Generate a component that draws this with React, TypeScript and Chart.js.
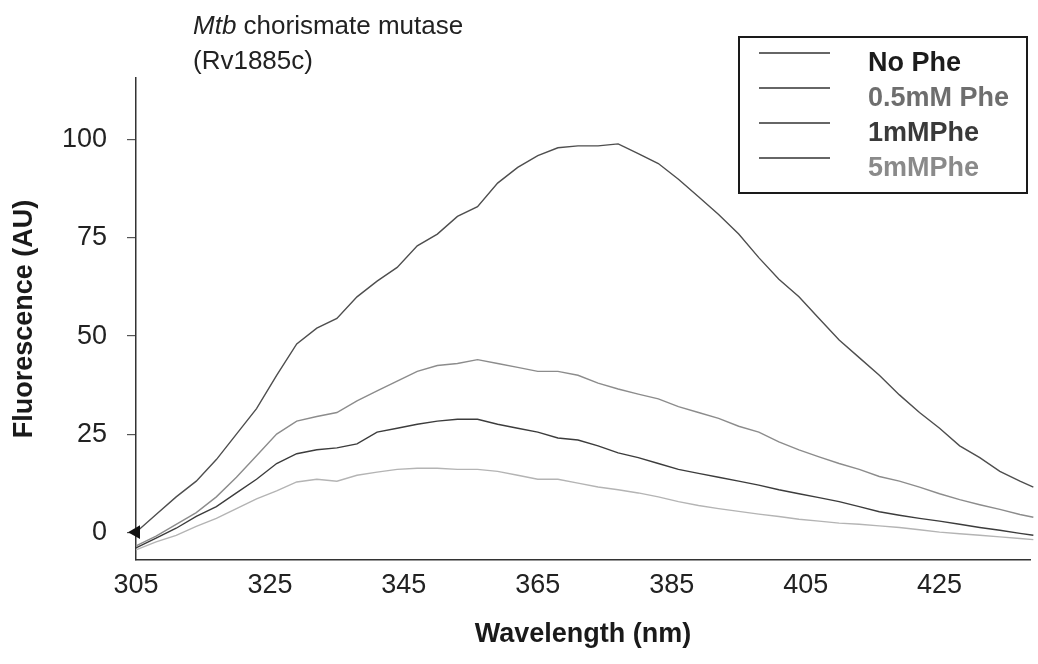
import React, { useEffect, useRef } from "react";
import { Chart, registerables } from "chart.js";

Chart.register(...registerables);

// ---------- DATA ----------
const wavelengths = [
  305, 308, 311, 314, 317, 320, 323, 326, 329, 332, 335, 338, 341, 344, 347, 350,
  353, 356, 359, 362, 365, 368, 371, 374, 377, 380, 383, 386, 389, 392, 395, 398,
  401, 404, 407, 410, 413, 416, 419, 422, 425, 428, 431, 434, 437, 439,
];

const noPhe = [
  0, 4.5, 9, 13, 18.5, 25, 31.5, 40, 48, 52, 54.5, 60, 64, 67.5, 73, 76,
  80.5, 83, 89, 93, 96, 98, 98.5, 98.5, 99, 96.5, 94, 90, 85.5, 81, 76, 70,
  64.5, 60, 54.5, 49, 44.5, 40, 35, 30.5, 26.5, 22, 19, 15.5, 13, 11.5,
];

const phe05 = [
  -3.5, -1, 2, 5, 9, 14, 19.5, 25, 28.3, 29.5, 30.5, 33.5, 36, 38.5, 41, 42.5,
  43, 44, 43, 42, 41, 41, 40, 38, 36.5, 35.2, 34, 32, 30.5, 29, 27, 25.5,
  23, 21, 19.2, 17.5, 16, 14.2, 13, 11.5, 9.8, 8.3, 7, 5.8, 4.5, 3.8,
];

const phe1 = [
  -4, -1.5, 1, 4, 6.5, 10, 13.5, 17.5, 20, 21, 21.5, 22.5, 25.5, 26.5, 27.5, 28.3,
  28.8, 28.8, 27.5, 26.5, 25.5, 24, 23.5, 22, 20.2, 19, 17.5, 16, 15, 14, 13, 12,
  10.8, 9.8, 8.8, 7.8, 6.5, 5.2, 4.3, 3.5, 2.8, 2, 1.2, 0.5, -0.3, -0.8,
];

const phe5 = [
  -4.5, -2.5, -0.8, 1.5, 3.5, 6, 8.5, 10.5, 12.8, 13.5, 13, 14.5, 15.3, 16, 16.3, 16.3,
  16, 16, 15.5, 14.5, 13.5, 13.5, 12.5, 11.5, 10.8, 10, 9, 7.8, 6.8, 6, 5.3, 4.6,
  4, 3.3, 2.8, 2.3, 2, 1.6, 1.2, 0.6, 0, -0.4, -0.8, -1.2, -1.6, -1.9,
];

const seriesNames = ["No Phe", "0.5mM Phe", "1mMPhe", "5mMPhe"];
const xTicks = [305, 325, 345, 365, 385, 405, 425];
const yTicks = [0, 25, 50, 75, 100];

const titleItalic = "Mtb";
const titleRest = " chorismate mutase";
const titleLine2 = "(Rv1885c)";
const xTitle = "Wavelength (nm)";
const yTitle = "Fluorescence (AU)";

// ---------- STYLES ----------
const FONT = "'Liberation Sans', Arial, Helvetica, sans-serif";
const lineColors = ["#4e4e4e", "#8c8c8c", "#3c3c3c", "#b4b4b4"];
const legendTextColors = ["#1c1c1c", "#6e6e6e", "#3a3a3a", "#8a8a8a"];

const overlayPlugin = {
  id: "overlay",
  afterDraw(chart: any) {
    const ctx = chart.ctx as CanvasRenderingContext2D;
    ctx.save();
    // title
    ctx.fillStyle = "#222";
    ctx.textBaseline = "alphabetic";
    ctx.textAlign = "left";
    ctx.font = `italic 26px ${FONT}`;
    ctx.fillText(titleItalic, 193, 34);
    const w = ctx.measureText(titleItalic).width;
    ctx.font = `26px ${FONT}`;
    ctx.fillText(titleRest, 193 + w, 34);
    ctx.fillText(titleLine2, 193, 69);

    // legend box
    const bx = 739, by = 37, bw = 288, bh = 156;
    ctx.fillStyle = "#fff";
    ctx.fillRect(bx, by, bw, bh);
    ctx.strokeStyle = "#1a1a1a";
    ctx.lineWidth = 2;
    ctx.strokeRect(bx, by, bw, bh);
    const ds = chart.data.datasets;
    ds.forEach((d: any, i: number) => {
      const ly = by + 16 + i * 35;
      ctx.strokeStyle = "#333";
      ctx.lineWidth = 1.5;
      ctx.beginPath();
      ctx.moveTo(bx + 20, ly);
      ctx.lineTo(bx + 91, ly);
      ctx.stroke();
      ctx.font = `bold 27px ${FONT}`;
      ctx.fillStyle = legendTextColors[i];
      ctx.textBaseline = "middle";
      ctx.fillText(d.label, bx + 129, ly + 11);
    });
    ctx.restore();
  },
};

export default function App() {
  const ref = useRef<HTMLCanvasElement | null>(null);

  useEffect(() => {
    document.body.style.margin = "0";
    if (!ref.current) return;
    const series = [noPhe, phe05, phe1, phe5];
    const chart = new Chart(ref.current, {
      type: "line",
      data: {
        datasets: series.map((s, i) => ({
          label: seriesNames[i],
          data: wavelengths.map((x, j) => ({ x, y: s[j] })),
          borderColor: lineColors[i],
          backgroundColor: i === 0 ? "#111" : lineColors[i],
          borderWidth: 1.4,
          tension: 0,
          pointRadius: i === 0 ? (c: any) => (c.dataIndex === 0 ? 8 : 0) : 0,
          pointStyle: "triangle",
          rotation: -90,
          pointBorderWidth: 0,
          clip: false as any,
        })),
      },
      options: {
        animation: false,
        responsive: false,
        devicePixelRatio: 1,
        layout: { padding: { top: 78, right: 2, left: 0, bottom: 0 } },
        plugins: {
          legend: { display: false },
          tooltip: { enabled: false },
          title: { display: false },
        },
        scales: {
          x: {
            type: "linear",
            min: 305,
            max: 438.5,
            afterBuildTicks: (s: any) => {
              s.ticks = xTicks.map((v) => ({ value: v }));
            },
            afterFit: (s: any) => {
              s.height = 104;
            },
            ticks: {
              color: "#222",
              font: { family: FONT, size: 27 },
              padding: 9,
              maxRotation: 0,
              autoSkip: false,
              callback: (v: any) => String(v),
            },
            grid: { display: false, drawTicks: false },
            border: { display: true, color: "#333", width: 1.5 },
            title: {
              display: true,
              text: xTitle,
              color: "#1a1a1a",
              font: { family: FONT, size: 27, weight: "bold" },
              padding: { top: 0, bottom: 13 },
            },
          },
          y: {
            type: "linear",
            min: -7.1,
            max: 115.8,
            afterBuildTicks: (s: any) => {
              s.ticks = yTicks.map((v) => ({ value: v }));
            },
            afterFit: (s: any) => {
              s.width = 136;
            },
            ticks: {
              color: "#222",
              font: { family: FONT, size: 27 },
              padding: 20,
              callback: (v: any) => String(v),
            },
            grid: {
              display: true,
              drawOnChartArea: false,
              drawTicks: true,
              tickLength: 9,
              color: "#555",
              lineWidth: 1.2,
            },
            border: { display: true, color: "#333", width: 1.5 },
            title: {
              display: true,
              text: yTitle,
              color: "#1a1a1a",
              font: { family: FONT, size: 27, weight: "bold" },
              padding: { top: 8, bottom: 0 },
            },
          },
        },
      },
      plugins: [overlayPlugin],
    });
    return () => chart.destroy();
  }, []);

  return (
    <div style={{ position: "absolute", left: 0, top: 0, width: 1038, height: 664, background: "#fff" }}>
      <canvas ref={ref} width={1038} height={664} style={{ display: "block", width: 1038, height: 664 }} />
    </div>
  );
}
